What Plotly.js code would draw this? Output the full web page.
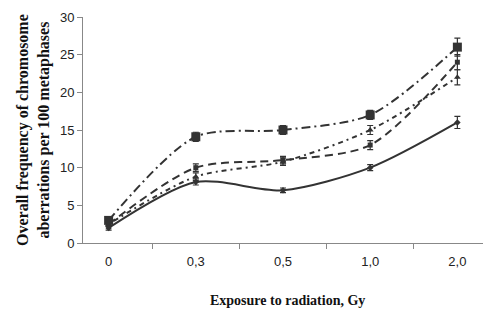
<!DOCTYPE html>
<html><head><meta charset="utf-8">
<script src="https://cdn.plot.ly/plotly-3.0.1.min.js"></script>
<style>html,body{margin:0;padding:0;background:#fff}#c{width:500px;height:315px}</style>
</head><body><div id="c"></div>
<script>
var doses = ["0", "0,3", "0,5", "1,0", "2,0"];
var seriesA = [2.0, 8.1, 7.0, 10.0, 16.0];   // solid
var errA    = [0.3, 0.4, 0.3, 0.4, 0.8];
var seriesB = [2.5, 10.0, 11.0, 13.0, 24.0]; // dashed, small squares
var errB    = [0.3, 0.5, 0.5, 0.6, 1.0];
var seriesC = [2.5, 8.8, 10.8, 15.0, 22.0];  // dotted, triangles
var errC    = [0.3, 0.5, 0.5, 0.6, 1.0];
var seriesD = [3.0, 14.1, 15.0, 17.0, 26.0]; // dash-dot, big squares
var errD    = [0.4, 0.6, 0.6, 0.6, 1.2];

function tr(y, e, dash, sym, size) {
  return {
    x: doses, y: y, type: 'scatter', mode: 'lines+markers',
    line: {color: '#333', width: 2, dash: dash, shape: 'spline', smoothing: 0.8},
    marker: {color: '#333', symbol: sym, size: size},
    error_y: {type: 'data', array: e, visible: true, color: '#333', thickness: 1.2, width: 3},
    showlegend: false
  };
}
var data = [
  tr(seriesA, errA, 'solid', 'diamond', 5),
  tr(seriesB, errB, '8px,5px', 'square', 5),
  tr(seriesC, errC, '2px,4px,5px,4px', 'triangle-up', 6),
  tr(seriesD, errD, '9px,4px,2px,4px', 'square', 9)
];
var layout = {
  width: 500, height: 315,
  margin: {l: 83, r: 17, t: 17, b: 72},
  paper_bgcolor: '#fff', plot_bgcolor: '#fff',
  font: {family: 'Liberation Sans, Arial, sans-serif', size: 12, color: '#222'},
  xaxis: {
    type: 'category', tickson: 'boundaries', ticks: 'outside', ticklen: 5, tickcolor: '#888',
    showline: true, linecolor: '#888', linewidth: 1, showgrid: false, zeroline: false,
    tickfont: {size: 13}, ticklabelstandoff: 6
  },
  yaxis: {
    range: [0, 30], dtick: 5, ticks: 'outside', ticklen: 5, tickcolor: '#888',
    showline: true, linecolor: '#888', linewidth: 1, showgrid: false, zeroline: false,
    tickfont: {size: 13}
  },
  annotations: [{
    text: '<b>Overall frequency of chromosome<br>aberrations per 100 metaphases</b>',
    xref: 'paper', yref: 'paper', x: -0.125, y: 0.5, xanchor: 'center', yanchor: 'middle',
    textangle: -90, showarrow: false,
    font: {family: 'Liberation Serif, Times New Roman, serif', size: 16, color: '#111'}
  }, {
    text: '<b>Exposure to radiation, Gy</b>',
    xref: 'paper', yref: 'paper', x: 0.51, y: -0.255, xanchor: 'center', yanchor: 'middle',
    showarrow: false,
    font: {family: 'Liberation Serif, Times New Roman, serif', size: 14, color: '#111'}
  }]
};
Plotly.newPlot('c', data, layout, {displayModeBar: false, staticPlot: true});
</script></body></html>
